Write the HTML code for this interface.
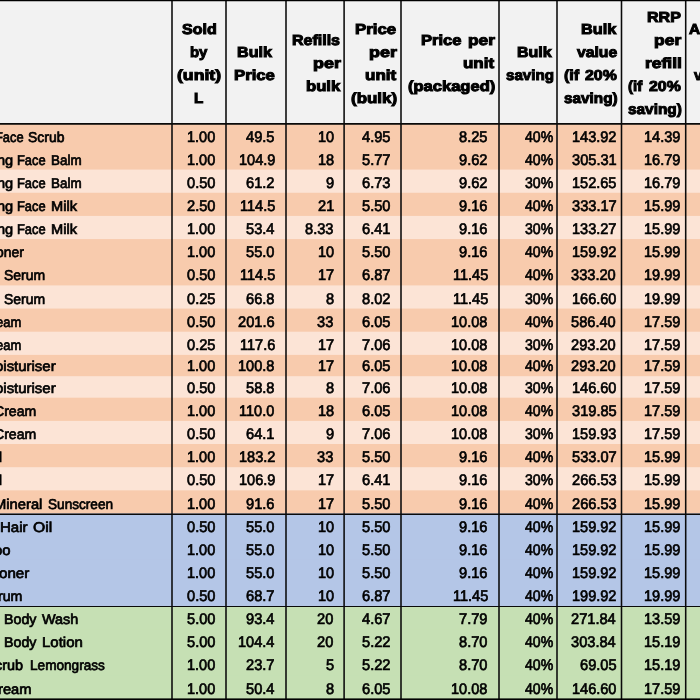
<!DOCTYPE html>
<html lang="en"><head><meta charset="utf-8"><title>Bulk price table</title>
<style>
html,body{margin:0;padding:0;}
body{width:700px;height:700px;overflow:hidden;position:relative;background:#F2F2F2;font-family:"Liberation Sans",sans-serif;color:#000;text-rendering:geometricPrecision;}
.bg{position:absolute;left:0;width:700px;}
.t,.h{position:absolute;white-space:nowrap;line-height:23px;height:23px;transform-origin:0 50%;}
.t{font-size:14.2px;-webkit-text-stroke:0.7px #000;}
.n{font-size:15.4px;}
.h{font-size:14.5px;font-weight:bold;-webkit-text-stroke:1.0px #000;}
svg{position:absolute;left:0;top:0;}
</style></head><body>

<svg width="700" height="700" viewBox="0 0 700 700">
<rect x="0" y="123.28" width="700" height="578.72" fill="#F8CBAD"/>
<rect x="0" y="146.44" width="700" height="555.56" fill="#F8CBAD"/>
<rect x="0" y="169.60" width="700" height="532.40" fill="#FCE4D6"/>
<rect x="0" y="192.76" width="700" height="509.24" fill="#F8CBAD"/>
<rect x="0" y="215.92" width="700" height="486.08" fill="#FCE4D6"/>
<rect x="0" y="239.08" width="700" height="462.92" fill="#F8CBAD"/>
<rect x="0" y="262.24" width="700" height="439.76" fill="#F8CBAD"/>
<rect x="0" y="285.40" width="700" height="416.60" fill="#FCE4D6"/>
<rect x="0" y="308.56" width="700" height="393.44" fill="#F8CBAD"/>
<rect x="0" y="331.72" width="700" height="370.28" fill="#FCE4D6"/>
<rect x="0" y="354.88" width="700" height="347.12" fill="#F8CBAD"/>
<rect x="0" y="376.20" width="700" height="325.80" fill="#FCE4D6"/>
<rect x="0" y="397.70" width="700" height="304.30" fill="#F8CBAD"/>
<rect x="0" y="420.90" width="700" height="281.10" fill="#FCE4D6"/>
<rect x="0" y="444.00" width="700" height="258.00" fill="#F8CBAD"/>
<rect x="0" y="467.20" width="700" height="234.80" fill="#FCE4D6"/>
<rect x="0" y="490.35" width="700" height="211.65" fill="#F8CBAD"/>
<rect x="0" y="513.50" width="700" height="188.50" fill="#B4C6E7"/>
<rect x="0" y="536.63" width="700" height="165.37" fill="#B4C6E7"/>
<rect x="0" y="559.76" width="700" height="142.24" fill="#B4C6E7"/>
<rect x="0" y="582.89" width="700" height="119.11" fill="#B4C6E7"/>
<rect x="0" y="606.02" width="700" height="95.98" fill="#C6E0B4"/>
<rect x="0" y="629.17" width="700" height="72.83" fill="#C6E0B4"/>
<rect x="0" y="652.32" width="700" height="49.68" fill="#C6E0B4"/>
<rect x="0" y="675.47" width="700" height="26.53" fill="#C6E0B4"/>
</svg>
<div class="t" style="left:-4.68px;top:127px;transform:scaleX(0.9079)">Face</div>
<div class="t" style="left:28.22px;top:127px;transform:scaleX(0.9813)">Scrub</div>
<div class="t n" style="left:186.88px;top:126px;transform:scaleX(0.9440)">1.00</div>
<div class="t n" style="left:246.38px;top:126px;transform:scaleX(0.9500)">49.5</div>
<div class="t n" style="left:317.51px;top:126px;transform:scaleX(0.9440)">10</div>
<div class="t n" style="left:361.78px;top:126px;transform:scaleX(0.9500)">4.95</div>
<div class="t n" style="left:459.38px;top:126px;transform:scaleX(0.9500)">8.25</div>
<div class="t n" style="left:525.37px;top:126px;transform:scaleX(0.9170)">40%</div>
<div class="t n" style="left:571.86px;top:126px;transform:scaleX(0.9440)">143.92</div>
<div class="t n" style="left:644.44px;top:126px;transform:scaleX(0.9440)">14.39</div>
<div class="t" style="left:-3.50px;top:150px;transform:scaleX(1.0283)">ng</div>
<div class="t" style="left:16.72px;top:150px;transform:scaleX(0.9079)">Face</div>
<div class="t" style="left:50.67px;top:150px;transform:scaleX(0.9465)">Balm</div>
<div class="t n" style="left:186.88px;top:149px;transform:scaleX(0.9440)">1.00</div>
<div class="t n" style="left:238.54px;top:149px;transform:scaleX(0.9440)">104.9</div>
<div class="t n" style="left:317.58px;top:149px;transform:scaleX(0.9440)">18</div>
<div class="t n" style="left:361.85px;top:149px;transform:scaleX(0.9500)">5.77</div>
<div class="t n" style="left:459.45px;top:149px;transform:scaleX(0.9500)">9.62</div>
<div class="t n" style="left:525.37px;top:149px;transform:scaleX(0.9170)">40%</div>
<div class="t n" style="left:571.58px;top:149px;transform:scaleX(0.9500)">305.31</div>
<div class="t n" style="left:644.44px;top:149px;transform:scaleX(0.9440)">16.79</div>
<div class="t" style="left:-3.50px;top:173px;transform:scaleX(1.0283)">ng</div>
<div class="t" style="left:16.72px;top:173px;transform:scaleX(0.9079)">Face</div>
<div class="t" style="left:50.67px;top:173px;transform:scaleX(0.9465)">Balm</div>
<div class="t n" style="left:186.70px;top:172px;transform:scaleX(0.9500)">0.50</div>
<div class="t n" style="left:246.45px;top:172px;transform:scaleX(0.9500)">61.2</div>
<div class="t n" style="left:325.69px;top:172px;transform:scaleX(0.9500)">9</div>
<div class="t n" style="left:361.78px;top:172px;transform:scaleX(0.9500)">6.73</div>
<div class="t n" style="left:459.45px;top:172px;transform:scaleX(0.9500)">9.62</div>
<div class="t n" style="left:525.37px;top:172px;transform:scaleX(0.9170)">30%</div>
<div class="t n" style="left:571.78px;top:172px;transform:scaleX(0.9440)">152.65</div>
<div class="t n" style="left:644.44px;top:172px;transform:scaleX(0.9440)">16.79</div>
<div class="t" style="left:-3.50px;top:196px;transform:scaleX(1.0283)">ng</div>
<div class="t" style="left:16.72px;top:196px;transform:scaleX(0.9079)">Face</div>
<div class="t" style="left:50.58px;top:196px;transform:scaleX(1.0301)">Milk</div>
<div class="t n" style="left:186.70px;top:195px;transform:scaleX(0.9500)">2.50</div>
<div class="t n" style="left:239.55px;top:195px;transform:scaleX(0.9440)">114.5</div>
<div class="t n" style="left:317.55px;top:195px;transform:scaleX(0.9500)">21</div>
<div class="t n" style="left:361.70px;top:195px;transform:scaleX(0.9500)">5.50</div>
<div class="t n" style="left:459.38px;top:195px;transform:scaleX(0.9500)">9.16</div>
<div class="t n" style="left:525.37px;top:195px;transform:scaleX(0.9170)">40%</div>
<div class="t n" style="left:571.58px;top:195px;transform:scaleX(0.9500)">333.17</div>
<div class="t n" style="left:644.44px;top:195px;transform:scaleX(0.9440)">15.99</div>
<div class="t" style="left:-3.50px;top:219px;transform:scaleX(1.0283)">ng</div>
<div class="t" style="left:16.72px;top:219px;transform:scaleX(0.9079)">Face</div>
<div class="t" style="left:50.58px;top:219px;transform:scaleX(1.0301)">Milk</div>
<div class="t n" style="left:186.88px;top:218px;transform:scaleX(0.9440)">1.00</div>
<div class="t n" style="left:246.16px;top:218px;transform:scaleX(0.9500)">53.4</div>
<div class="t n" style="left:305.28px;top:218px;transform:scaleX(0.9500)">8.33</div>
<div class="t n" style="left:361.85px;top:218px;transform:scaleX(0.9500)">6.41</div>
<div class="t n" style="left:459.38px;top:218px;transform:scaleX(0.9500)">9.16</div>
<div class="t n" style="left:525.37px;top:218px;transform:scaleX(0.9170)">30%</div>
<div class="t n" style="left:571.86px;top:218px;transform:scaleX(0.9440)">133.27</div>
<div class="t n" style="left:644.44px;top:218px;transform:scaleX(0.9440)">15.99</div>
<div class="t" style="left:-4.21px;top:242px;transform:scaleX(0.9795)">oner</div>
<div class="t n" style="left:186.88px;top:241px;transform:scaleX(0.9440)">1.00</div>
<div class="t n" style="left:246.30px;top:241px;transform:scaleX(0.9500)">55.0</div>
<div class="t n" style="left:317.51px;top:241px;transform:scaleX(0.9440)">10</div>
<div class="t n" style="left:361.70px;top:241px;transform:scaleX(0.9500)">5.50</div>
<div class="t n" style="left:459.38px;top:241px;transform:scaleX(0.9500)">9.16</div>
<div class="t n" style="left:525.37px;top:241px;transform:scaleX(0.9170)">40%</div>
<div class="t n" style="left:571.86px;top:241px;transform:scaleX(0.9440)">159.92</div>
<div class="t n" style="left:644.44px;top:241px;transform:scaleX(0.9440)">15.99</div>
<div class="t" style="left:3.62px;top:265px;transform:scaleX(0.9854)">Serum</div>
<div class="t n" style="left:186.70px;top:264px;transform:scaleX(0.9500)">0.50</div>
<div class="t n" style="left:239.55px;top:264px;transform:scaleX(0.9440)">114.5</div>
<div class="t n" style="left:317.65px;top:264px;transform:scaleX(0.9440)">17</div>
<div class="t n" style="left:361.85px;top:264px;transform:scaleX(0.9500)">6.87</div>
<div class="t n" style="left:452.55px;top:264px;transform:scaleX(0.9440)">11.45</div>
<div class="t n" style="left:525.37px;top:264px;transform:scaleX(0.9170)">40%</div>
<div class="t n" style="left:571.43px;top:264px;transform:scaleX(0.9500)">333.20</div>
<div class="t n" style="left:644.44px;top:264px;transform:scaleX(0.9440)">19.99</div>
<div class="t" style="left:3.62px;top:289px;transform:scaleX(0.9854)">Serum</div>
<div class="t n" style="left:186.78px;top:288px;transform:scaleX(0.9500)">0.25</div>
<div class="t n" style="left:246.38px;top:288px;transform:scaleX(0.9500)">66.8</div>
<div class="t n" style="left:325.62px;top:288px;transform:scaleX(0.9500)">8</div>
<div class="t n" style="left:361.85px;top:288px;transform:scaleX(0.9500)">8.02</div>
<div class="t n" style="left:452.55px;top:288px;transform:scaleX(0.9440)">11.45</div>
<div class="t n" style="left:525.37px;top:288px;transform:scaleX(0.9170)">30%</div>
<div class="t n" style="left:571.71px;top:288px;transform:scaleX(0.9440)">166.60</div>
<div class="t n" style="left:644.44px;top:288px;transform:scaleX(0.9440)">19.99</div>
<div class="t" style="left:-3.87px;top:312px;transform:scaleX(0.9136)">eam</div>
<div class="t n" style="left:186.70px;top:311px;transform:scaleX(0.9500)">0.50</div>
<div class="t n" style="left:238.24px;top:311px;transform:scaleX(0.9500)">201.6</div>
<div class="t n" style="left:317.48px;top:311px;transform:scaleX(0.9500)">33</div>
<div class="t n" style="left:361.78px;top:311px;transform:scaleX(0.9500)">6.05</div>
<div class="t n" style="left:451.47px;top:311px;transform:scaleX(0.9440)">10.08</div>
<div class="t n" style="left:525.37px;top:311px;transform:scaleX(0.9170)">40%</div>
<div class="t n" style="left:571.43px;top:311px;transform:scaleX(0.9500)">586.40</div>
<div class="t n" style="left:644.44px;top:311px;transform:scaleX(0.9440)">17.59</div>
<div class="t" style="left:-3.87px;top:335px;transform:scaleX(0.9136)">eam</div>
<div class="t n" style="left:186.78px;top:334px;transform:scaleX(0.9500)">0.25</div>
<div class="t n" style="left:239.55px;top:334px;transform:scaleX(0.9440)">117.6</div>
<div class="t n" style="left:317.65px;top:334px;transform:scaleX(0.9440)">17</div>
<div class="t n" style="left:361.78px;top:334px;transform:scaleX(0.9500)">7.06</div>
<div class="t n" style="left:451.47px;top:334px;transform:scaleX(0.9440)">10.08</div>
<div class="t n" style="left:525.37px;top:334px;transform:scaleX(0.9170)">30%</div>
<div class="t n" style="left:571.43px;top:334px;transform:scaleX(0.9500)">293.20</div>
<div class="t n" style="left:644.44px;top:334px;transform:scaleX(0.9440)">17.59</div>
<div class="t" style="left:-4.95px;top:356px;transform:scaleX(1.0536)">oisturiser</div>
<div class="t n" style="left:186.88px;top:355px;transform:scaleX(0.9440)">1.00</div>
<div class="t n" style="left:238.47px;top:355px;transform:scaleX(0.9440)">100.8</div>
<div class="t n" style="left:317.65px;top:355px;transform:scaleX(0.9440)">17</div>
<div class="t n" style="left:361.78px;top:355px;transform:scaleX(0.9500)">6.05</div>
<div class="t n" style="left:451.47px;top:355px;transform:scaleX(0.9440)">10.08</div>
<div class="t n" style="left:525.37px;top:355px;transform:scaleX(0.9170)">40%</div>
<div class="t n" style="left:571.43px;top:355px;transform:scaleX(0.9500)">293.20</div>
<div class="t n" style="left:644.44px;top:355px;transform:scaleX(0.9440)">17.59</div>
<div class="t" style="left:-4.95px;top:378px;transform:scaleX(1.0536)">oisturiser</div>
<div class="t n" style="left:186.70px;top:377px;transform:scaleX(0.9500)">0.50</div>
<div class="t n" style="left:246.38px;top:377px;transform:scaleX(0.9500)">58.8</div>
<div class="t n" style="left:325.62px;top:377px;transform:scaleX(0.9500)">8</div>
<div class="t n" style="left:361.78px;top:377px;transform:scaleX(0.9500)">7.06</div>
<div class="t n" style="left:451.47px;top:377px;transform:scaleX(0.9440)">10.08</div>
<div class="t n" style="left:525.37px;top:377px;transform:scaleX(0.9170)">30%</div>
<div class="t n" style="left:571.71px;top:377px;transform:scaleX(0.9440)">146.60</div>
<div class="t n" style="left:644.44px;top:377px;transform:scaleX(0.9440)">17.59</div>
<div class="t" style="left:-6.35px;top:401px;transform:scaleX(0.9926)">Cream</div>
<div class="t n" style="left:186.88px;top:400px;transform:scaleX(0.9440)">1.00</div>
<div class="t n" style="left:239.48px;top:400px;transform:scaleX(0.9440)">110.0</div>
<div class="t n" style="left:317.58px;top:400px;transform:scaleX(0.9440)">18</div>
<div class="t n" style="left:361.78px;top:400px;transform:scaleX(0.9500)">6.05</div>
<div class="t n" style="left:451.47px;top:400px;transform:scaleX(0.9440)">10.08</div>
<div class="t n" style="left:525.37px;top:400px;transform:scaleX(0.9170)">40%</div>
<div class="t n" style="left:571.50px;top:400px;transform:scaleX(0.9500)">319.85</div>
<div class="t n" style="left:644.44px;top:400px;transform:scaleX(0.9440)">17.59</div>
<div class="t" style="left:-6.35px;top:424px;transform:scaleX(0.9926)">Cream</div>
<div class="t n" style="left:186.70px;top:423px;transform:scaleX(0.9500)">0.50</div>
<div class="t n" style="left:246.45px;top:423px;transform:scaleX(0.9500)">64.1</div>
<div class="t n" style="left:325.69px;top:423px;transform:scaleX(0.9500)">9</div>
<div class="t n" style="left:361.78px;top:423px;transform:scaleX(0.9500)">7.06</div>
<div class="t n" style="left:451.47px;top:423px;transform:scaleX(0.9440)">10.08</div>
<div class="t n" style="left:525.37px;top:423px;transform:scaleX(0.9170)">30%</div>
<div class="t n" style="left:571.78px;top:423px;transform:scaleX(0.9440)">159.93</div>
<div class="t n" style="left:644.44px;top:423px;transform:scaleX(0.9440)">17.59</div>
<div class="t" style="left:-0.54px;top:447px;transform:scaleX(0.9637)">l</div>
<div class="t n" style="left:186.88px;top:446px;transform:scaleX(0.9440)">1.00</div>
<div class="t n" style="left:238.54px;top:446px;transform:scaleX(0.9440)">183.2</div>
<div class="t n" style="left:317.48px;top:446px;transform:scaleX(0.9500)">33</div>
<div class="t n" style="left:361.70px;top:446px;transform:scaleX(0.9500)">5.50</div>
<div class="t n" style="left:459.38px;top:446px;transform:scaleX(0.9500)">9.16</div>
<div class="t n" style="left:525.37px;top:446px;transform:scaleX(0.9170)">40%</div>
<div class="t n" style="left:571.58px;top:446px;transform:scaleX(0.9500)">533.07</div>
<div class="t n" style="left:644.44px;top:446px;transform:scaleX(0.9440)">15.99</div>
<div class="t" style="left:-0.54px;top:470px;transform:scaleX(0.9637)">l</div>
<div class="t n" style="left:186.70px;top:469px;transform:scaleX(0.9500)">0.50</div>
<div class="t n" style="left:238.54px;top:469px;transform:scaleX(0.9440)">106.9</div>
<div class="t n" style="left:317.65px;top:469px;transform:scaleX(0.9440)">17</div>
<div class="t n" style="left:361.85px;top:469px;transform:scaleX(0.9500)">6.41</div>
<div class="t n" style="left:459.38px;top:469px;transform:scaleX(0.9500)">9.16</div>
<div class="t n" style="left:525.37px;top:469px;transform:scaleX(0.9170)">30%</div>
<div class="t n" style="left:571.50px;top:469px;transform:scaleX(0.9500)">266.53</div>
<div class="t n" style="left:644.44px;top:469px;transform:scaleX(0.9440)">15.99</div>
<div class="t" style="left:-5.83px;top:494px;transform:scaleX(1.0395)">Mineral</div>
<div class="t" style="left:47.74px;top:494px;transform:scaleX(0.9596)">Sunscreen</div>
<div class="t n" style="left:186.88px;top:493px;transform:scaleX(0.9440)">1.00</div>
<div class="t n" style="left:246.38px;top:493px;transform:scaleX(0.9500)">91.6</div>
<div class="t n" style="left:317.65px;top:493px;transform:scaleX(0.9440)">17</div>
<div class="t n" style="left:361.70px;top:493px;transform:scaleX(0.9500)">5.50</div>
<div class="t n" style="left:459.38px;top:493px;transform:scaleX(0.9500)">9.16</div>
<div class="t n" style="left:525.37px;top:493px;transform:scaleX(0.9170)">40%</div>
<div class="t n" style="left:571.50px;top:493px;transform:scaleX(0.9500)">266.53</div>
<div class="t n" style="left:644.44px;top:493px;transform:scaleX(0.9440)">15.99</div>
<div class="t" style="left:0.05px;top:517px;transform:scaleX(1.0601)">Hair</div>
<div class="t" style="left:32.64px;top:517px;transform:scaleX(1.1053)">Oil</div>
<div class="t n" style="left:186.70px;top:516px;transform:scaleX(0.9500)">0.50</div>
<div class="t n" style="left:246.30px;top:516px;transform:scaleX(0.9500)">55.0</div>
<div class="t n" style="left:317.51px;top:516px;transform:scaleX(0.9440)">10</div>
<div class="t n" style="left:361.70px;top:516px;transform:scaleX(0.9500)">5.50</div>
<div class="t n" style="left:459.38px;top:516px;transform:scaleX(0.9500)">9.16</div>
<div class="t n" style="left:525.37px;top:516px;transform:scaleX(0.9170)">40%</div>
<div class="t n" style="left:571.86px;top:516px;transform:scaleX(0.9440)">159.92</div>
<div class="t n" style="left:644.44px;top:516px;transform:scaleX(0.9440)">15.99</div>
<div class="t" style="left:-6.24px;top:540px;transform:scaleX(1.0449)">oo</div>
<div class="t n" style="left:186.88px;top:539px;transform:scaleX(0.9440)">1.00</div>
<div class="t n" style="left:246.30px;top:539px;transform:scaleX(0.9500)">55.0</div>
<div class="t n" style="left:317.51px;top:539px;transform:scaleX(0.9440)">10</div>
<div class="t n" style="left:361.70px;top:539px;transform:scaleX(0.9500)">5.50</div>
<div class="t n" style="left:459.38px;top:539px;transform:scaleX(0.9500)">9.16</div>
<div class="t n" style="left:525.37px;top:539px;transform:scaleX(0.9170)">40%</div>
<div class="t n" style="left:571.86px;top:539px;transform:scaleX(0.9440)">159.92</div>
<div class="t n" style="left:644.44px;top:539px;transform:scaleX(0.9440)">15.99</div>
<div class="t" style="left:-0.96px;top:563px;transform:scaleX(1.0662)">oner</div>
<div class="t n" style="left:186.88px;top:562px;transform:scaleX(0.9440)">1.00</div>
<div class="t n" style="left:246.30px;top:562px;transform:scaleX(0.9500)">55.0</div>
<div class="t n" style="left:317.51px;top:562px;transform:scaleX(0.9440)">10</div>
<div class="t n" style="left:361.70px;top:562px;transform:scaleX(0.9500)">5.50</div>
<div class="t n" style="left:459.38px;top:562px;transform:scaleX(0.9500)">9.16</div>
<div class="t n" style="left:525.37px;top:562px;transform:scaleX(0.9170)">40%</div>
<div class="t n" style="left:571.86px;top:562px;transform:scaleX(0.9440)">159.92</div>
<div class="t n" style="left:644.44px;top:562px;transform:scaleX(0.9440)">15.99</div>
<div class="t" style="left:-2.07px;top:586px;transform:scaleX(0.9984)">rum</div>
<div class="t n" style="left:186.70px;top:585px;transform:scaleX(0.9500)">0.50</div>
<div class="t n" style="left:246.45px;top:585px;transform:scaleX(0.9500)">68.7</div>
<div class="t n" style="left:317.51px;top:585px;transform:scaleX(0.9440)">10</div>
<div class="t n" style="left:361.85px;top:585px;transform:scaleX(0.9500)">6.87</div>
<div class="t n" style="left:452.55px;top:585px;transform:scaleX(0.9440)">11.45</div>
<div class="t n" style="left:525.37px;top:585px;transform:scaleX(0.9170)">40%</div>
<div class="t n" style="left:571.86px;top:585px;transform:scaleX(0.9440)">199.92</div>
<div class="t n" style="left:644.44px;top:585px;transform:scaleX(0.9440)">19.99</div>
<div class="t" style="left:3.51px;top:609px;transform:scaleX(1.0022)">Body</div>
<div class="t" style="left:42.35px;top:609px;transform:scaleX(1.0143)">Wash</div>
<div class="t n" style="left:186.70px;top:608px;transform:scaleX(0.9500)">5.00</div>
<div class="t n" style="left:246.16px;top:608px;transform:scaleX(0.9500)">93.4</div>
<div class="t n" style="left:317.41px;top:608px;transform:scaleX(0.9500)">20</div>
<div class="t n" style="left:361.85px;top:608px;transform:scaleX(0.9500)">4.67</div>
<div class="t n" style="left:459.45px;top:608px;transform:scaleX(0.9500)">7.79</div>
<div class="t n" style="left:525.37px;top:608px;transform:scaleX(0.9170)">40%</div>
<div class="t n" style="left:571.29px;top:608px;transform:scaleX(0.9500)">271.84</div>
<div class="t n" style="left:644.44px;top:608px;transform:scaleX(0.9440)">13.59</div>
<div class="t" style="left:3.51px;top:632px;transform:scaleX(1.0022)">Body</div>
<div class="t" style="left:42.05px;top:632px;transform:scaleX(1.0549)">Lotion</div>
<div class="t n" style="left:186.70px;top:631px;transform:scaleX(0.9500)">5.00</div>
<div class="t n" style="left:238.25px;top:631px;transform:scaleX(0.9440)">104.4</div>
<div class="t n" style="left:317.41px;top:631px;transform:scaleX(0.9500)">20</div>
<div class="t n" style="left:361.85px;top:631px;transform:scaleX(0.9500)">5.22</div>
<div class="t n" style="left:459.30px;top:631px;transform:scaleX(0.9500)">8.70</div>
<div class="t n" style="left:525.37px;top:631px;transform:scaleX(0.9170)">40%</div>
<div class="t n" style="left:571.29px;top:631px;transform:scaleX(0.9500)">303.84</div>
<div class="t n" style="left:644.44px;top:631px;transform:scaleX(0.9440)">15.19</div>
<div class="t" style="left:-4.73px;top:655px;transform:scaleX(1.0162)">crub</div>
<div class="t" style="left:30.16px;top:655px;transform:scaleX(0.9594)">Lemongrass</div>
<div class="t n" style="left:186.88px;top:654px;transform:scaleX(0.9440)">1.00</div>
<div class="t n" style="left:246.45px;top:654px;transform:scaleX(0.9500)">23.7</div>
<div class="t n" style="left:325.62px;top:654px;transform:scaleX(0.9500)">5</div>
<div class="t n" style="left:361.85px;top:654px;transform:scaleX(0.9500)">5.22</div>
<div class="t n" style="left:459.30px;top:654px;transform:scaleX(0.9500)">8.70</div>
<div class="t n" style="left:525.37px;top:654px;transform:scaleX(0.9170)">40%</div>
<div class="t n" style="left:579.64px;top:654px;transform:scaleX(0.9500)">69.05</div>
<div class="t n" style="left:644.44px;top:654px;transform:scaleX(0.9440)">15.19</div>
<div class="t" style="left:-1.61px;top:679px;transform:scaleX(1.0349)">ream</div>
<div class="t n" style="left:186.88px;top:678px;transform:scaleX(0.9440)">1.00</div>
<div class="t n" style="left:246.16px;top:678px;transform:scaleX(0.9500)">50.4</div>
<div class="t n" style="left:325.62px;top:678px;transform:scaleX(0.9500)">8</div>
<div class="t n" style="left:361.78px;top:678px;transform:scaleX(0.9500)">6.05</div>
<div class="t n" style="left:451.47px;top:678px;transform:scaleX(0.9440)">10.08</div>
<div class="t n" style="left:525.37px;top:678px;transform:scaleX(0.9170)">40%</div>
<div class="t n" style="left:571.71px;top:678px;transform:scaleX(0.9440)">146.60</div>
<div class="t n" style="left:644.44px;top:678px;transform:scaleX(0.9440)">17.59</div>
<div class="h" style="left:181.60px;top:19px;transform:scaleX(1.1031)">Sold</div>
<div class="h" style="left:190.23px;top:42px;transform:scaleX(1.0274)">by</div>
<div class="h" style="left:176.81px;top:65px;transform:scaleX(1.2156)">(unit)</div>
<div class="h" style="left:194.31px;top:88px;transform:scaleX(1.0477)">L</div>
<div class="h" style="left:237.25px;top:42px;transform:scaleX(1.1102)">Bulk</div>
<div class="h" style="left:234.11px;top:65px;transform:scaleX(1.1533)">Price</div>
<div class="h" style="left:292.36px;top:30px;transform:scaleX(1.1035)">Refills</div>
<div class="h" style="left:312.53px;top:53px;transform:scaleX(1.2374)">per</div>
<div class="h" style="left:305.52px;top:76px;transform:scaleX(1.1480)">bulk</div>
<div class="h" style="left:355.11px;top:19px;transform:scaleX(1.1591)">Price</div>
<div class="h" style="left:369.23px;top:42px;transform:scaleX(1.2374)">per</div>
<div class="h" style="left:365.28px;top:65px;transform:scaleX(1.1725)">unit</div>
<div class="h" style="left:351.04px;top:88px;transform:scaleX(1.1675)">(bulk)</div>
<div class="h" style="left:420.82px;top:30px;transform:scaleX(1.1415)">Price</div>
<div class="h" style="left:467.67px;top:30px;transform:scaleX(1.1953)">per</div>
<div class="h" style="left:463.08px;top:53px;transform:scaleX(1.1686)">unit</div>
<div class="h" style="left:407.56px;top:76px;transform:scaleX(1.1396)">(packaged)</div>
<div class="h" style="left:517.46px;top:42px;transform:scaleX(1.1037)">Bulk</div>
<div class="h" style="left:505.77px;top:65px;transform:scaleX(1.0456)">saving</div>
<div class="h" style="left:581.14px;top:19px;transform:scaleX(1.1233)">Bulk</div>
<div class="h" style="left:576.50px;top:42px;transform:scaleX(1.0839)">value</div>
<div class="h" style="left:563.98px;top:65px;transform:scaleX(1.1101)">(if</div>
<div class="h" style="left:584.82px;top:65px;transform:scaleX(1.0944)">20%</div>
<div class="h" style="left:563.76px;top:88px;transform:scaleX(1.0553)">saving)</div>
<div class="h" style="left:646.95px;top:7px;transform:scaleX(1.1093)">RRP</div>
<div class="h" style="left:654.06px;top:30px;transform:scaleX(1.2047)">per</div>
<div class="h" style="left:645.26px;top:53px;transform:scaleX(1.2058)">refill</div>
<div class="h" style="left:628.03px;top:76px;transform:scaleX(1.0335)">(if</div>
<div class="h" style="left:649.02px;top:76px;transform:scaleX(1.0944)">20%</div>
<div class="h" style="left:628.26px;top:99px;transform:scaleX(1.0593)">saving)</div>
<div class="h" style="left:688.79px;top:19px;transform:scaleX(1.0600)">A</div>
<div class="h" style="left:694.40px;top:65px;transform:scaleX(1.0300)">v</div>
<svg width="700" height="700" viewBox="0 0 700 700">
<g stroke="#0a0a0a" fill="none">
<line x1="172.00" y1="0" x2="172.00" y2="700" stroke-width="1.55"/>
<line x1="226.00" y1="0" x2="226.00" y2="700" stroke-width="1.55"/>
<line x1="286.00" y1="0" x2="286.00" y2="700" stroke-width="1.55"/>
<line x1="344.10" y1="0" x2="344.10" y2="700" stroke-width="1.55"/>
<line x1="401.00" y1="0" x2="401.00" y2="700" stroke-width="1.55"/>
<line x1="499.00" y1="0" x2="499.00" y2="700" stroke-width="1.55"/>
<line x1="557.00" y1="0" x2="557.00" y2="700" stroke-width="1.55"/>
<line x1="621.50" y1="0" x2="621.50" y2="700" stroke-width="1.55"/>
<line x1="685.70" y1="0" x2="685.70" y2="700" stroke-width="1.55"/>
<line x1="0" y1="123.90" x2="700" y2="123.90" stroke-width="1.7"/>
<line x1="0" y1="514.25" x2="700" y2="514.25" stroke-width="1.5"/>
<line x1="0" y1="606.50" x2="700" y2="606.50" stroke-width="1.15"/>
<rect x="0" y="0" width="700" height="1.25" fill="#000" stroke="none"/>
</g>
<rect x="0" y="698.4" width="700" height="2" fill="#000"/>
</svg>
</body></html>
